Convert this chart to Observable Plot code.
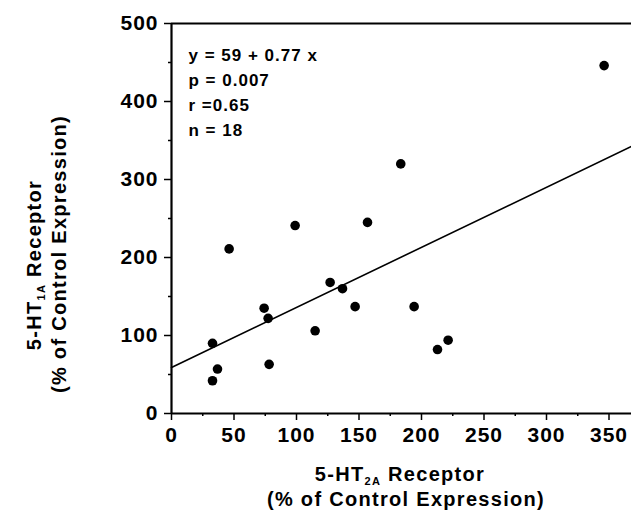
<!DOCTYPE html>
<html>
<head>
<meta charset="utf-8">
<script src="https://cdn.jsdelivr.net/npm/d3@7"></script>
<script src="https://cdn.jsdelivr.net/npm/@observablehq/plot@0.6"></script>
<style>
  html, body { margin: 0; padding: 0; background: #fff; }
  #chart { width: 631px; height: 518px; }
</style>
</head>
<body>
<div id="chart"></div>
<script>
// 5-HT2A receptor expression (% of control)
const ht2a = [32.8, 36.8, 32.8, 46.1, 74.1, 77.3, 78.1, 98.9, 114.9, 126.9, 136.8, 146.9, 156.8, 194.1, 212.8, 221.3, 183.4, 346.1];
// 5-HT1A receptor expression (% of control)
const ht1a = [90, 57, 42, 211, 135, 122, 63, 241, 106, 168, 160, 137, 245, 137, 82, 94, 320, 446];

const xMajorTicks = [0, 50, 100, 150, 200, 250, 300, 350];
const xMinorTicks = [25, 75, 125, 175, 225, 275, 325];
const yMajorTicks = [0, 100, 200, 300, 400, 500];
const yMinorTicks = [50, 150, 250, 350, 450];

const fitIntercept = 59;
const fitSlope = 0.77;
const fitRange = [0, 368];

const statLines = ["y = 59 + 0.77 x", "p = 0.007", "r =0.65", "n = 18"];

const points = ht2a.map((x, i) => ({x, y: ht1a[i]}));
const fitLine = fitRange.map(x => ({x, y: fitIntercept + fitSlope * x}));

const font = "'Liberation Sans', Arial, Helvetica, sans-serif";

const chart = Plot.plot({
  width: 631,
  height: 518,
  marginLeft: 171,
  marginRight: 0,
  marginTop: 23,
  marginBottom: 105,
  style: {fontFamily: font, fontWeight: "bold", fontSize: "21px", letterSpacing: "1px", background: "#fff", color: "#000"},
  x: {domain: [0, 368], axis: null},
  y: {domain: [0, 500], axis: null},
  marks: [
    Plot.axisX({ticks: xMinorTicks, tickSize: 3, tickFormat: () => "", label: null, strokeWidth: 1.5}),
    Plot.axisY({ticks: yMinorTicks, tickSize: 3, tickFormat: () => "", label: null, strokeWidth: 1.5}),
    Plot.axisX({ticks: xMajorTicks, tickSize: 7, tickPadding: 7, label: null, strokeWidth: 1.5, fontSize: 21, fontWeight: "bold"}),
    Plot.axisY({ticks: yMajorTicks, tickSize: 7, tickPadding: 6, label: null, strokeWidth: 1.5, fontSize: 21, fontWeight: "bold"}),
    Plot.ruleX([0], {strokeWidth: 2.2, stroke: "#000"}),
    Plot.ruleY([0], {strokeWidth: 2.2, stroke: "#000"}),
    Plot.ruleY([500], {strokeWidth: 2.2, stroke: "#000"}),
    Plot.line(fitLine, {x: "x", y: "y", stroke: "#000", strokeWidth: 1.6}),
    Plot.dot(points, {x: "x", y: "y", r: 4.8, fill: "#000", stroke: "none"}),
    Plot.text([statLines.join("\n")], {
      frameAnchor: "top-left", textAnchor: "start", lineAnchor: "top",
      dx: 17, dy: 20, lineHeight: 1.47, fontSize: 17, fontWeight: "bold", fill: "#000"
    })
  ]
});

document.getElementById("chart").appendChild(chart);

// Axis titles with subscripts
const svg = d3.select(chart);
const titleFont = 20;
function addTitle(g, main, sub, rest) {
  const t = g.append("text")
    .attr("text-anchor", "middle")
    .attr("font-family", font)
    .attr("font-weight", "bold")
    .attr("font-size", titleFont)
    .attr("letter-spacing", "1.3px")
    .attr("fill", "#000");
  t.append("tspan").text(main);
  if (sub) {
    t.append("tspan").attr("font-size", 11).attr("dy", 4).text(sub);
    t.append("tspan").attr("dy", -4).text(rest);
  }
  return t;
}
// X title
addTitle(svg.append("g").attr("transform", "translate(400,481)"), "5-HT", "2A", " Receptor");
addTitle(svg.append("g").attr("transform", "translate(406,506)"), "(% of Control Expression)");
// Y title
addTitle(svg.append("g").attr("transform", "translate(41,265) rotate(-90)"), "5-HT", "1A", " Receptor");
addTitle(svg.append("g").attr("transform", "translate(66,254) rotate(-90)"), "(% of Control Expression)");
</script>
</body>
</html>
